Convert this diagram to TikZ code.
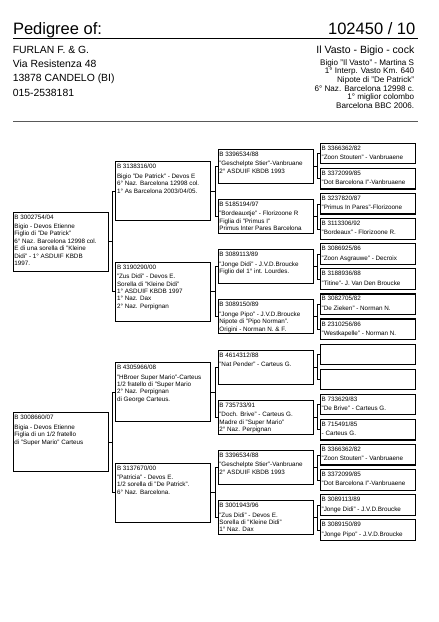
\documentclass[tikz,border=0pt]{standalone}
\usepackage{fontspec}
\setmainfont{Liberation Sans}
\tikzset{
  pbox/.style={draw, line width=0.7pt, minimum width=95pt, inner sep=0pt, anchor=west},
  gone/.style={pbox, minimum height=59pt},
  gtwo/.style={pbox, minimum height=59pt},
  gthree/.style={pbox, minimum height=34pt},
  gfour/.style={pbox, minimum height=20.5pt, line width=1.2pt},
  btxt/.style={anchor=north west, align=left, inner xsep=1.5pt, inner ysep=2.8pt, font=\fontsize{6.3}{7.4}\selectfont},
  link/.style={line width=0.6pt},
}
\begin{document}
\begin{tikzpicture}[x=1pt,y=-1pt]
    \useasboundingbox (0,0) rectangle (439,622);
    % header
    \node[anchor=base west, inner sep=0pt, font=\fontsize{16.5}{16.5}\selectfont] (title) at (12.8,34.3) {Pedigree of:};
    \node[anchor=base east, inner sep=0pt, font=\fontsize{16.5}{16.5}\selectfont] (ringno) at (415.5,34.3) {102450 / 10};
    \draw[line width=0.8pt] (13,38.3) -- (417.5,38.3);
    \node[anchor=north west, align=left, inner sep=0pt, font=\fontsize{10.4}{14.3}\selectfont] (owner) at (12.6,45.9) {FURLAN F. \& G.\\Via Resistenza 48\\13878 CANDELO (BI)\\015-2538181};
    \node[anchor=base east, inner sep=0pt, font=\fontsize{10.5}{10.5}\selectfont] (bird) at (414.5,53.3) {Il Vasto - Bigio - cock};
    \node[anchor=north east, align=right, inner sep=0pt, font=\fontsize{8.1}{8.6}\selectfont] (info) at (414.3,59.2) {Bigio "Il Vasto" - Martina S\\1° Interp. Vasto Km. 640\\Nipote di "De Patrick"\\6° Naz. Barcelona 12998 c.\\1° miglior colombo\\Barcelona BBC 2006.};
    \draw[line width=1pt, gray!70!black] (13,121.7) -- (417.5,121.7);
    % parents
    \node[gone, label={[btxt]north west:{B 3002754/04\\[1.9pt]Bigio - Devos Etienne\\Figlio di "De Patrick"\\6° Naz. Barcelona 12998 col.\\E di una sorella di "Kleine\\Didi" - 1° ASDUIF KBDB\\1997.}}] (s) at (12.7,241.4) {};
    \node[gone, label={[btxt]north west:{B 3008660/07\\[1.9pt]Bigia - Devos Etienne\\Figlia di un 1/2 fratello\\di "Super Mario" Carteus}}] (d) at (12.7,442.2) {};
    % grandparents
    \node[gtwo, label={[btxt]north west:{B 3138316/00\\[1.9pt]Bigio "De Patrick" - Devos E\\6° Naz. Barcelona 12998 col.\\1° As Barcelona 2003/04/05.}}] (ss) at (115.3,191.2) {};
    \node[gtwo, label={[btxt]north west:{B 3190290/00\\[1.9pt]"Zus Didi" - Devos E.\\Sorella di "Kleine Didi"\\1° ASDUIF KBDB 1997\\1° Naz. Dax\\2° Naz. Perpignan}}] (sd) at (115.3,291.6) {};
    \node[gtwo, label={[btxt]north west:{B 4305966/08\\[1.9pt]"HBroer Super Mario"-Carteus\\1/2 fratello di "Super Mario\\2° Naz. Perpignan\\di George Carteus.}}] (ds) at (115.3,392.0) {};
    \node[gtwo, label={[btxt]north west:{B 3137670/00\\[1.9pt]"Patricia" - Devos E.\\1/2 sorella di "De Patrick".\\6° Naz. Barcelona.}}] (dd) at (115.3,492.4) {};
    % great-grandparents
    \node[gthree, label={[btxt]north west:{B 3396534/88\\[1.9pt]"Geschelpte Stier"-Vanbruane\\2° ASDUIF KBDB 1993}}] (sss) at (217.7,166.1) {};
    \node[gthree, label={[btxt]north west:{B 5185194/97\\[1.9pt]"Bordeauxtje" - Florizoone R\\Figlia di "Primus I"\\Primus Inter Pares Barcelona}}] (ssd) at (217.7,216.3) {};
    \node[gthree, label={[btxt]north west:{B 3089113/89\\[1.9pt]"Jonge Didi" - J.V.D.Broucke\\Figlio del 1° int. Lourdes.}}] (sds) at (217.7,266.5) {};
    \node[gthree, label={[btxt]north west:{B 3089150/89\\[1.9pt]"Jonge Pipo" - J.V.D.Broucke\\Nipote di "Pipo Norman".\\Origini - Norman N. \& F.}}] (sdd) at (217.7,316.7) {};
    \node[gthree, label={[btxt]north west:{B 4614312/88\\[1.9pt]"Nat Pender" - Carteus G.}}] (dss) at (217.7,366.9) {};
    \node[gthree, label={[btxt]north west:{B 735733/91\\[1.9pt]"Doch. Brive" - Carteus G.\\Madre di "Super Mario"\\2° Naz. Perpignan}}] (dsd) at (217.7,417.1) {};
    \node[gthree, label={[btxt]north west:{B 3396534/88\\[1.9pt]"Geschelpte Stier"-Vanbruane\\2° ASDUIF KBDB 1993}}] (dds) at (217.7,467.3) {};
    \node[gthree, label={[btxt]north west:{B 3001943/96\\[1.9pt]"Zus Didi" - Devos E.\\Sorella di "Kleine Didi"\\1° Naz. Dax}}] (ddd) at (217.7,517.5) {};
    % great-great-grandparents
    \node[gfour, label={[btxt]north west:{B 3366362/82\\[1.9pt]"Zoon Stouten" - Vanbruaene}}] (ssss) at (320,153.6) {};
    \node[gfour, label={[btxt]north west:{B 3372099/85\\[1.9pt]"Dot Barcelona I"-Vanbruaene}}] (sssd) at (320,178.7) {};
    \node[gfour, label={[btxt]north west:{B 3237820/87\\[1.9pt]"Primus In Pares"-Florizoone}}] (ssds) at (320,203.8) {};
    \node[gfour, label={[btxt]north west:{B 3113306/92\\[1.9pt]"Bordeaux" - Florizoone R.}}] (ssdd) at (320,228.9) {};
    \node[gfour, label={[btxt]north west:{B 3086925/86\\[1.9pt]"Zoon Asgrauwe" - Decroix}}] (sdss) at (320,254.0) {};
    \node[gfour, label={[btxt]north west:{B 3188936/88\\[1.9pt]"Titine"- J. Van Den Broucke}}] (sdsd) at (320,279.1) {};
    \node[gfour, label={[btxt]north west:{B 3082705/82\\[1.9pt]"De Zieken" - Norman N.}}] (sdds) at (320,304.2) {};
    \node[gfour, label={[btxt]north west:{B 2310256/86\\[1.9pt]"Westkapelle" - Norman N.}}] (sddd) at (320,329.3) {};
    \node[gfour] (dsss) at (320,354.4) {};
    \node[gfour] (dssd) at (320,379.5) {};
    \node[gfour, label={[btxt]north west:{B 733629/83\\[1.9pt]"De Brive" - Carteus G.}}] (dsds) at (320,404.6) {};
    \node[gfour, label={[btxt]north west:{B 715491/85\\[1.9pt]- Carteus G.}}] (dsdd) at (320,429.7) {};
    \node[gfour, label={[btxt]north west:{B 3366362/82\\[1.9pt]"Zoon Stouten" - Vanbruaene}}] (ddss) at (320,454.8) {};
    \node[gfour, label={[btxt]north west:{B 3372099/85\\[1.9pt]"Dot Barcelona I"-Vanbruaene}}] (ddsd) at (320,479.9) {};
    \node[gfour, label={[btxt]north west:{B 3089113/89\\[1.9pt]"Jonge Didi" - J.V.D.Broucke}}] (ddds) at (320,505.0) {};
    \node[gfour, label={[btxt]north west:{B 3089150/89\\[1.9pt]"Jonge Pipo" - J.V.D.Broucke}}] (dddd) at (320,530.1) {};
    % connectors
    \draw[link] (s.east) -- ++(3.8,0) |- (ss.west) (s.east) -- ++(3.8,0) |- (sd.west);
    \draw[link] (d.east) -- ++(3.8,0) |- (ds.west) (d.east) -- ++(3.8,0) |- (dd.west);
    \draw[link] (ss.east) -- ++(3.8,0) |- (sss.west) (ss.east) -- ++(3.8,0) |- (ssd.west);
    \draw[link] (sd.east) -- ++(3.8,0) |- (sds.west) (sd.east) -- ++(3.8,0) |- (sdd.west);
    \draw[link] (ds.east) -- ++(3.8,0) |- (dss.west) (ds.east) -- ++(3.8,0) |- (dsd.west);
    \draw[link] (dd.east) -- ++(3.8,0) |- (dds.west) (dd.east) -- ++(3.8,0) |- (ddd.west);
    \draw[link] (sss.east) -- ++(3.8,0) |- (ssss.west) (sss.east) -- ++(3.8,0) |- (sssd.west);
    \draw[link] (ssd.east) -- ++(3.8,0) |- (ssds.west) (ssd.east) -- ++(3.8,0) |- (ssdd.west);
    \draw[link] (sds.east) -- ++(3.8,0) |- (sdss.west) (sds.east) -- ++(3.8,0) |- (sdsd.west);
    \draw[link] (sdd.east) -- ++(3.8,0) |- (sdds.west) (sdd.east) -- ++(3.8,0) |- (sddd.west);
    \draw[link] (dss.east) -- ++(3.8,0) |- (dsss.west) (dss.east) -- ++(3.8,0) |- (dssd.west);
    \draw[link] (dsd.east) -- ++(3.8,0) |- (dsds.west) (dsd.east) -- ++(3.8,0) |- (dsdd.west);
    \draw[link] (dds.east) -- ++(3.8,0) |- (ddss.west) (dds.east) -- ++(3.8,0) |- (ddsd.west);
    \draw[link] (ddd.east) -- ++(3.8,0) |- (ddds.west) (ddd.east) -- ++(3.8,0) |- (dddd.west);
\end{tikzpicture}
\end{document}
